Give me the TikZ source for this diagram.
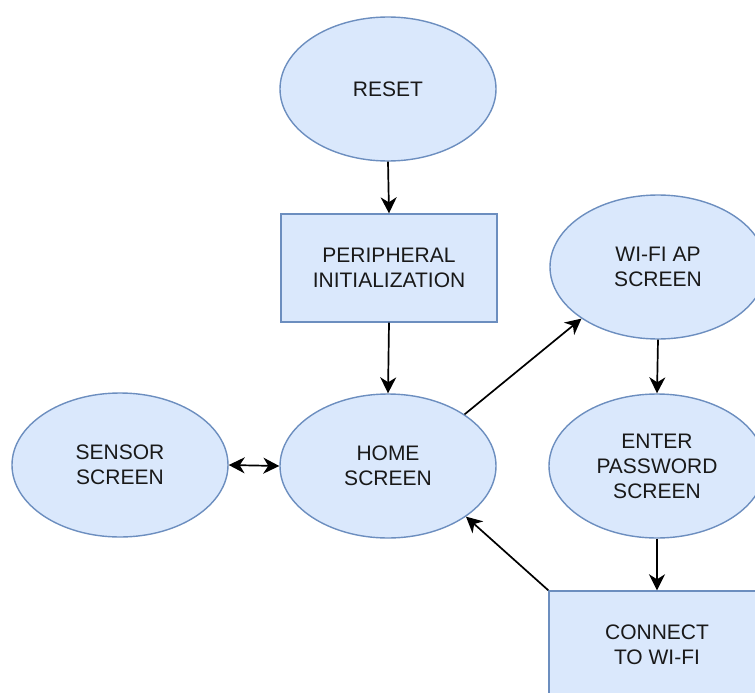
\documentclass[tikz,border=0pt]{standalone}
\usepackage{fontspec}
\setmainfont{Liberation Sans}
\usetikzlibrary{shapes.geometric,arrows.meta}
\definecolor{boxfill}{HTML}{DAE8FC}
\definecolor{boxline}{HTML}{6C8EBF}
\begin{document}
\begin{tikzpicture}[x=1pt,y=-1pt,
  every node/.style={font=\fontsize{21}{25}\selectfont, align=center, text=black!90},
  ell/.style={ellipse, draw=boxline, fill=boxfill, line width=1.4pt, minimum width=216pt, minimum height=144pt, inner sep=0pt},
  rbox/.style={rectangle, draw=boxline, fill=boxfill, line width=1.4pt, minimum width=216pt, minimum height=108pt, inner sep=0pt},
  tip/.style={Stealth[length=16pt,width=16pt,inset=5pt]},
  conn/.style={line width=1.7pt, draw=black, -{Stealth[length=16pt,width=16pt,inset=5pt]}},
  bconn/.style={line width=1.7pt, draw=black, {Stealth[length=16pt,width=16pt,inset=5pt]}-{Stealth[length=16pt,width=16pt,inset=5pt]}}
]
\useasboundingbox (0,0) rectangle (755,693);
\clip (0,0) rectangle (755,693);
\node[ell] (reset) at (388,89) {RESET};
\node[rbox] (periph) at (389,268) {PERIPHERAL\\INITIALIZATION};
\node[ell] (home) at (388,466) {HOME\\SCREEN};
\node[ell] (sensor) at (120,465) {SENSOR\\SCREEN};
\node[ell] (wifi) at (658,267) {WI-FI AP\\SCREEN};
\node[ell] (pw) at (657,466) {ENTER\\PASSWORD\\SCREEN};
\node[rbox] (connect) at (657,645) {CONNECT\\TO WI-FI};
\draw[conn] (reset.south) -- (periph.north);
\draw[conn] (periph.south) -- (home.north);
\draw[conn] (home.34.5) -- (wifi.214.7);
\draw[conn] (wifi.south) -- (pw.north);
\draw[conn] (pw.south) -- (connect.north);
\draw[conn] (connect.north west) -- (home.-33.4);
\draw[bconn] (sensor.east) -- (home.west);
\end{tikzpicture}
\end{document}
